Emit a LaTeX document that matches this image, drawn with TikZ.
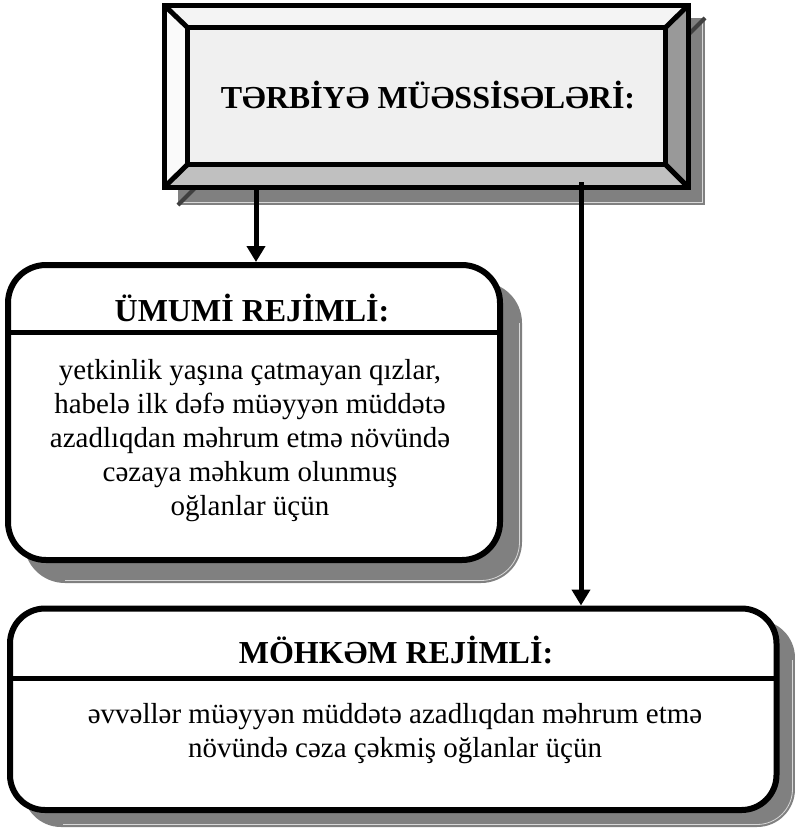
\documentclass[tikz,border=0pt]{standalone}
\usepackage{fontspec}
\setmainfont{Liberation Serif}
\usetikzlibrary{arrows.meta}
\definecolor{shadowgray}{HTML}{808080}
\definecolor{shadowline}{HTML}{D8D8D8}
\definecolor{shadowdark}{HTML}{404040}
\definecolor{facetop}{HTML}{F4F4F4}
\definecolor{faceleft}{HTML}{FAFAFA}
\definecolor{faceright}{HTML}{999999}
\definecolor{facebottom}{HTML}{C0C0C0}
\definecolor{faceinner}{HTML}{F0F0F0}
\begin{document}
\begin{tikzpicture}[x=1pt,y=-1pt,
  bevelline/.style={line width=5pt, line join=miter},
  roundbox/.style={draw, line width=6pt, fill=white, inner sep=0pt},
  divider/.style={line width=5pt},
  conn/.style={line width=5pt, -{Triangle[length=16pt,width=18pt]}},
  titletext/.style={font=\fontsize{32}{38}\selectfont\bfseries, inner sep=0pt, anchor=base},
  bodytext/.style={align=center, inner sep=0pt, font=\fontsize{29}{34}\selectfont},
  boxshadow/.style={fill=shadowgray},
  shadowedge/.style={draw=shadowline, line width=0.8pt}]
\useasboundingbox (0,0) rectangle (795,828);

% ---------- top bevelled box ----------
\fill[boxshadow] (178,18) rectangle (705,205);
\draw[shadowedge] (702.5,18) -- (702.5,202.5) -- (178,202.5);
\draw[shadowdark, line width=4pt] (705,18) -- (683,40);
\draw[shadowdark, line width=4pt] (178,205) -- (200,183);

\coordinate (o1) at (164.5,5.5);
\coordinate (o2) at (688,5.5);
\coordinate (o3) at (688,187);
\coordinate (o4) at (164.5,187);
\coordinate (i1) at (187.5,27.5);
\coordinate (i2) at (665.5,27.5);
\coordinate (i3) at (665.5,164.5);
\coordinate (i4) at (187.5,164.5);

\fill[facetop] (o1) -- (o2) -- (i2) -- (i1) -- cycle;
\fill[faceleft] (o1) -- (i1) -- (i4) -- (o4) -- cycle;
\fill[faceright] (o2) -- (o3) -- (i3) -- (i2) -- cycle;
\fill[facebottom] (o4) -- (o3) -- (i3) -- (i4) -- cycle;
\fill[faceinner] (i1) rectangle (i3);
\draw[bevelline] (o1) rectangle (o3);
\draw[bevelline] (i1) rectangle (i3);
\draw[bevelline] (o1) -- (i1) (o2) -- (i2) (o3) -- (i3) (o4) -- (i4);

\node[titletext] (toptitle) at (428,108) {TƏRBİYƏ MÜƏSSİSƏLƏRİ:};

% ---------- left rounded box ----------
\fill[boxshadow, rounded corners=41pt] (24,282) rectangle (522,583);
\draw[shadowedge, rounded corners=38.5pt] (519.5,323) -- (519.5,580.5) -- (65,580.5);
\node[roundbox, rounded corners=38pt, minimum width=492pt, minimum height=295pt] (umumi) at (254,412.5) {};
\draw[divider] (8,332.5) -- (500,332.5);
\node[titletext] (umumititle) at (252,321) {ÜMUMİ REJİMLİ:};
\node[bodytext] (umumibody) at (250,441)
  {yetkinlik yaşına çatmayan qızlar,\\habelə ilk dəfə müəyyən müddətə\\azadlıqdan məhrum etmə növündə\\cəzaya məhkum olunmuş\\oğlanlar üçün};

% ---------- bottom rounded box ----------
\fill[boxshadow, rounded corners=38pt] (23,620) rectangle (795,827);
\draw[shadowedge, rounded corners=35.5pt] (792.5,660) -- (792.5,824.5) -- (63,824.5);
\node[roundbox, rounded corners=35pt, minimum width=766.5pt, minimum height=201.5pt] (mohkem) at (393.25,709.25) {};
\draw[divider] (10,678) -- (776.5,678);
\node[titletext] (mohkemtitle) at (396,663) {MÖHKƏM REJİMLİ:};
\node[bodytext] (mohkembody) at (395,734)
  {əvvəllər müəyyən müddətə azadlıqdan məhrum etmə\\növündə cəza çəkmiş oğlanlar üçün};

% ---------- connectors ----------
\coordinate (startL) at (256,187);
\coordinate (startR) at (581,182);
\draw[conn] (startL) -- (startL |- umumi.north);
\draw[conn] (startR) -- (startR |- mohkem.north);
\end{tikzpicture}
\end{document}
